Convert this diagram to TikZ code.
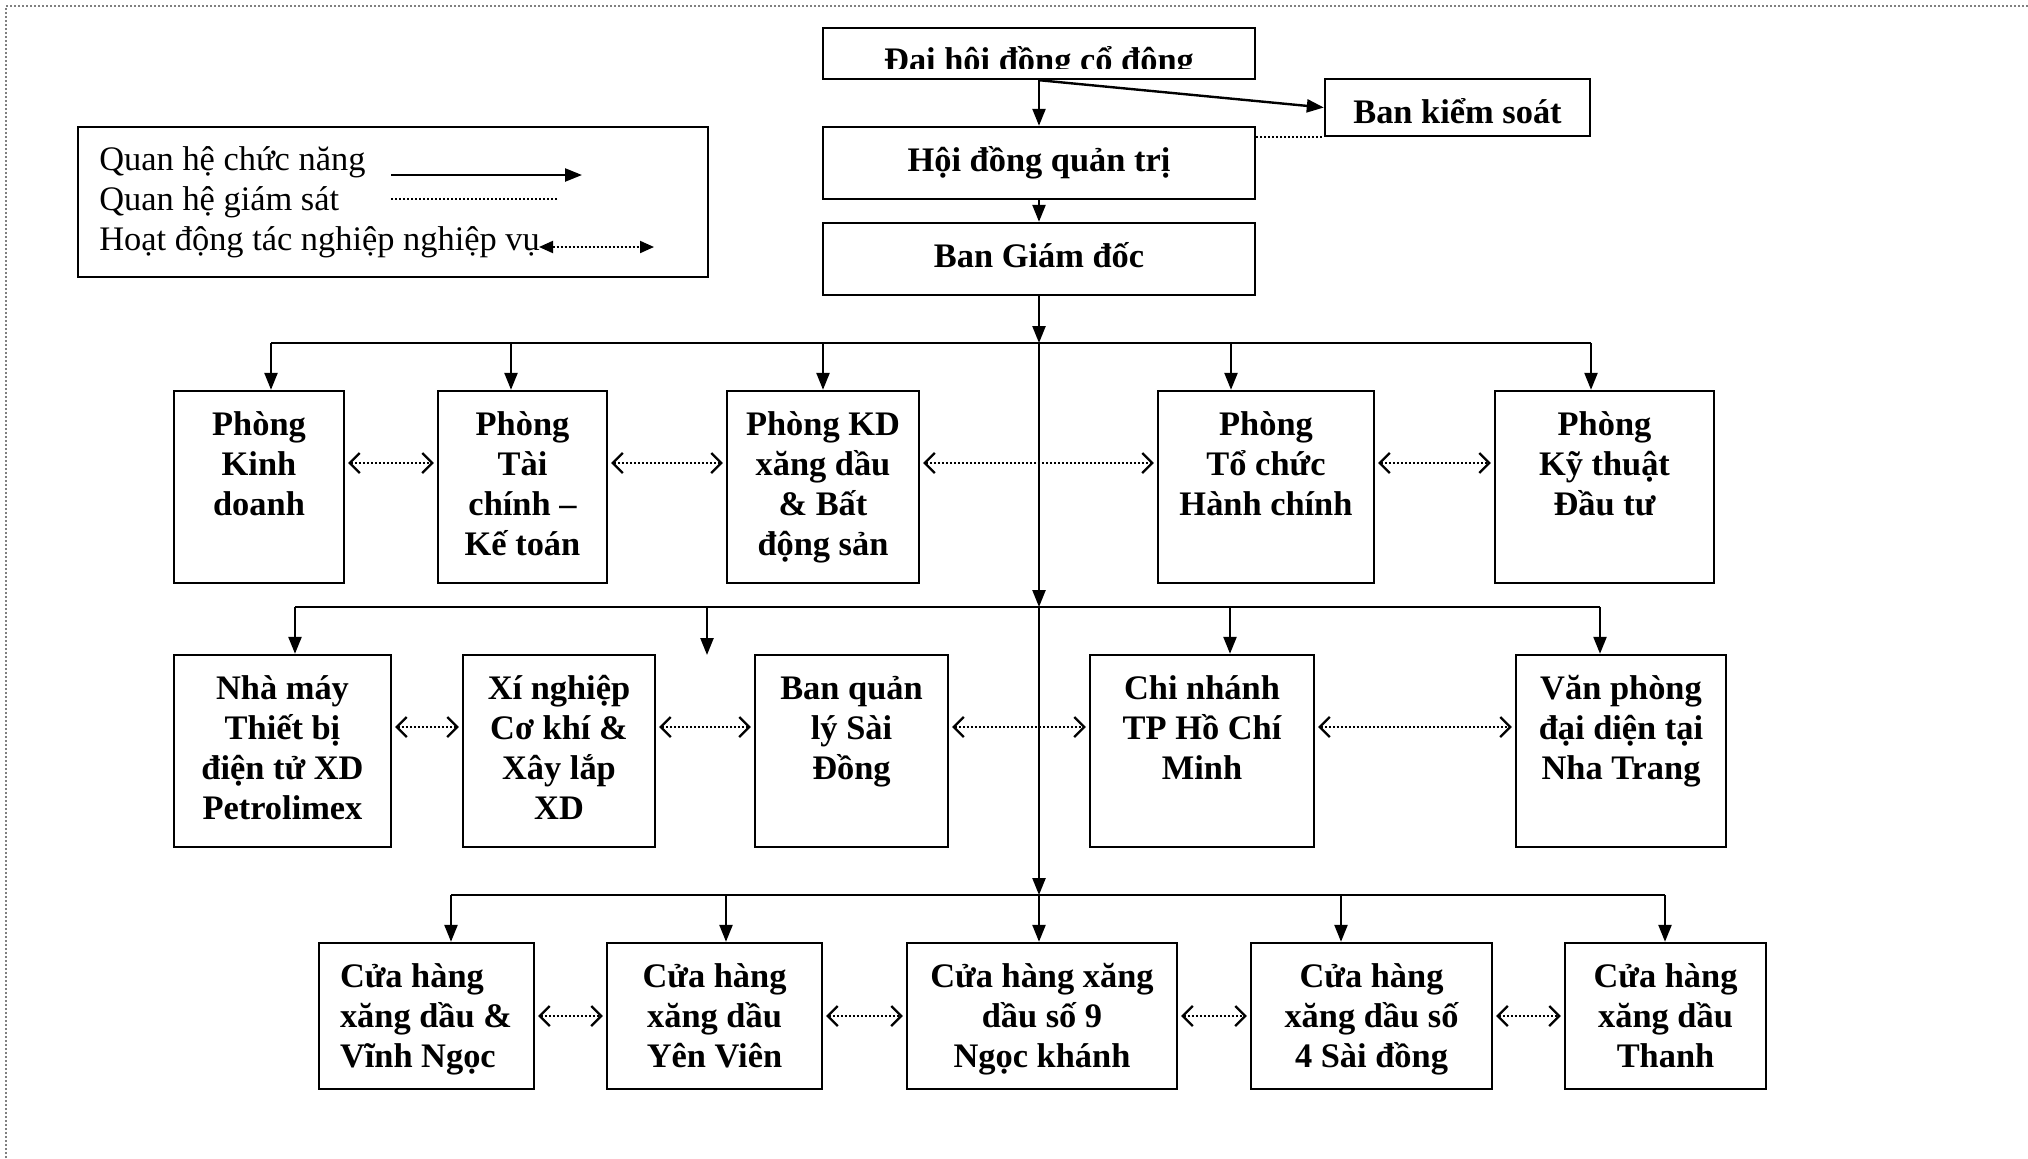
\documentclass[tikz,border=0pt]{standalone}
\usepackage{fontspec}
\setmainfont{Liberation Serif}
\usetikzlibrary{arrows.meta}

\tikzset{
  boxst/.style={draw, line width=1.2pt, inner sep=0pt, fill=white},
  txtst/.style={inner sep=0pt, font=\fontsize{17.2pt}{20pt}\selectfont\bfseries},
  legtxt/.style={inner sep=0pt, font=\fontsize{17.2pt}{20pt}\selectfont},
  ln/.style={line width=1.2pt},
  arr/.style={ln, -{Triangle[length=8.5pt,width=6.5pt]}},
  dotln/.style={line width=1pt, dash pattern=on 1pt off 1pt},
  dotarr/.style={dotln, shorten <=1.5pt, shorten >=1.5pt,
     {Straight Barb[length=5pt,width=10pt,line width=1.1pt]}-{Straight Barb[length=5pt,width=10pt,line width=1.1pt]}},
  legdot/.style={dotln, {Triangle[length=7pt,width=6pt]}-{Triangle[length=7pt,width=6pt]}},
  frame/.style={gray, line width=1pt, dash pattern=on 1pt off 1pt}
}

% #1 name, #2 x1, #3 y1, #4 x2, #5 y2, #6 alignment, #7 text
\newcommand{\orgbox}[7]{%
  \node[boxst, minimum width={(#4-#2)*0.5pt}, minimum height={(#5-#3)*0.5pt}] (#1) at ({(#2+#4)/2},{(#3+#5)/2}) {};
  \node[txtst, anchor=base] (#1t) at ([yshift=-23pt]#1.north) {\parbox[t]{\dimexpr(#4pt-#2pt)/2\relax}{#6 #7}};
}

\begin{document}
\begin{tikzpicture}[x=0.5pt,y=-0.5pt]
\useasboundingbox (0,0) rectangle (2028,1158);
\fill[white] (0,0) rectangle (2028,1158);
\draw[frame] (6,1158) -- (6,6) -- (2028,6);

% legend
\node[draw, line width=1pt, inner sep=0pt, minimum width=315pt, minimum height=75pt] (leg) at (393,202) {};
\node[legtxt, anchor=base west] (legt) at (99,170) {\parbox[t]{300pt}{\raggedright Quan hệ chức năng\\Quan hệ giám sát\\Hoạt động tác nghiệp nghiệp vụ}};
\coordinate (la1) at (391,175); \coordinate (la2) at (582,175);
\coordinate (lb1) at (391,199); \coordinate (lb2) at (559,199);
\coordinate (lc1) at (539,247); \coordinate (lc2) at (654,247);
\draw[arr] (la1) -- (la2);
\draw[dotln] (lb1) -- (lb2);
\draw[legdot] (lc1) -- (lc2);

% top boxes
\node[boxst, minimum width=216pt, minimum height=25.5pt] (dh) at (1039,53.5) {};
\begin{scope}
  \clip ([xshift=1pt]dh.north west) rectangle ([yshift=6pt]dh.south east);
  \node[txtst, anchor=base] (dht) at ([yshift=-22.5pt]dh.north) {Đại hội đồng cổ đông};
\end{scope}
\orgbox{bks}{1325}{79}{1590}{136}{\centering}{Ban kiểm soát}
\orgbox{hdqt}{823}{127}{1255}{199}{\centering}{Hội đồng quản trị}
\orgbox{bgd}{823}{223}{1255}{295}{\centering}{Ban Giám đốc}

% row 1
\orgbox{kd}{174}{391}{344}{583}{\centering}{Phòng\\Kinh\\doanh}
\orgbox{tc}{438}{391}{607}{583}{\centering}{Phòng\\Tài\\chính –\\Kế toán}
\orgbox{pkd}{727}{391}{919}{583}{\centering}{Phòng KD\\xăng dầu\\\& Bất\\động sản}
\orgbox{tch}{1158}{391}{1374}{583}{\centering}{Phòng\\Tổ chức\\Hành chính}
\orgbox{kt}{1495}{391}{1714}{583}{\centering}{Phòng\\Kỹ thuật\\Đầu tư}

% row 2
\orgbox{nm}{174}{655}{391}{847}{\centering}{Nhà máy\\Thiết bị\\điện tử XD\\Petrolimex}
\orgbox{xn}{463}{655}{655}{847}{\centering}{Xí nghiệp\\Cơ khí \&\\Xây lắp\\XD}
\orgbox{bql}{755}{655}{948}{847}{\centering}{Ban quản\\lý Sài\\Đồng}
\orgbox{cn}{1090}{655}{1314}{847}{\centering}{Chi nhánh\\TP Hồ Chí\\Minh}
\orgbox{vp}{1516}{655}{1726}{847}{\centering}{Văn phòng\\đại diện tại\\Nha Trang}

% row 3
\orgbox{chA}{319}{943}{534}{1089}{\raggedright\leftskip=10.5pt}{Cửa hàng\\xăng dầu \&\\Vĩnh Ngọc}
\orgbox{chB}{607}{943}{822}{1089}{\centering}{Cửa hàng\\xăng dầu\\Yên Viên}
\orgbox{chC}{907}{943}{1177}{1089}{\centering}{Cửa hàng xăng\\dầu số 9\\Ngọc khánh}
\orgbox{chD}{1251}{943}{1492}{1089}{\centering}{Cửa hàng\\xăng dầu số\\4 Sài đồng}
\orgbox{chE}{1565}{943}{1766}{1089}{\centering}{Cửa hàng\\xăng dầu\\Thanh}

% top connectors
\draw[arr] (dh.south) -- (hdqt.north);
\draw[arr] (dh.south) -- (bks.west);
\draw[dotln] (hdqt.east |- bks.south west) -- (bks.south west);
\draw[arr] (hdqt.south) -- (bgd.north);

% main vertical
\coordinate (m1) at (1039,343);
\coordinate (m2) at (1039,607);
\coordinate (m3) at (1039,895);
\draw[arr] (bgd.south) -- (m1);
\draw[arr] (m1) -- (m2);
\draw[arr] (m2) -- (m3);
\draw[arr] (m3) -- (m3 |- chC.north);

% bus 1
\coordinate (p1) at (271,343);
\coordinate (p2) at (511,343);
\coordinate (p3) at (823,343);
\coordinate (p4) at (1231,343);
\coordinate (p5) at (1591,343);
\draw[ln] (p1) -- (p5);
\draw[arr] (p1) -- (p1 |- kd.north);
\draw[arr] (p2) -- (p2 |- tc.north);
\draw[arr] (p3) -- (p3 |- pkd.north);
\draw[arr] (p4) -- (p4 |- tch.north);
\draw[arr] (p5) -- (p5 |- kt.north);

% bus 2
\coordinate (q1) at (295,607);
\coordinate (q2) at (707,607);
\coordinate (q2e) at (707,655);
\coordinate (q3) at (1230,607);
\coordinate (q4) at (1600,607);
\draw[ln] (q1) -- (q4);
\draw[arr] (q1) -- (q1 |- nm.north);
\draw[arr] (q2) -- (q2e);
\draw[arr] (q3) -- (q3 |- cn.north);
\draw[arr] (q4) -- (q4 |- vp.north);

% bus 3
\coordinate (r1) at (451,895);
\coordinate (r2) at (726,895);
\coordinate (r3) at (1341,895);
\coordinate (r4) at (1665,895);
\draw[ln] (r1) -- (r4);
\draw[arr] (r1) -- (r1 |- chA.north);
\draw[arr] (r2) -- (r2 |- chB.north);
\draw[arr] (r3) -- (r3 |- chD.north);
\draw[arr] (r4) -- (r4 |- chE.north);

% dotted relations row 1
\draw[dotarr] ([yshift=12pt]kd.east) -- ([yshift=12pt]tc.west);
\draw[dotarr] ([yshift=12pt]tc.east) -- ([yshift=12pt]pkd.west);
\draw[dotarr] ([yshift=12pt]pkd.east) -- ([yshift=12pt]tch.west);
\draw[dotarr] ([yshift=12pt]tch.east) -- ([yshift=12pt]kt.west);
% row 2
\draw[dotarr] ([yshift=12pt]nm.east) -- ([yshift=12pt]xn.west);
\draw[dotarr] ([yshift=12pt]xn.east) -- ([yshift=12pt]bql.west);
\draw[dotarr] ([yshift=12pt]bql.east) -- ([yshift=12pt]cn.west);
\draw[dotarr] ([yshift=12pt]cn.east) -- ([yshift=12pt]vp.west);
% row 3
\draw[dotarr] (chA.east) -- (chB.west);
\draw[dotarr] (chB.east) -- (chC.west);
\draw[dotarr] (chC.east) -- (chD.west);
\draw[dotarr] (chD.east) -- (chE.west);
\end{tikzpicture}
\end{document}
